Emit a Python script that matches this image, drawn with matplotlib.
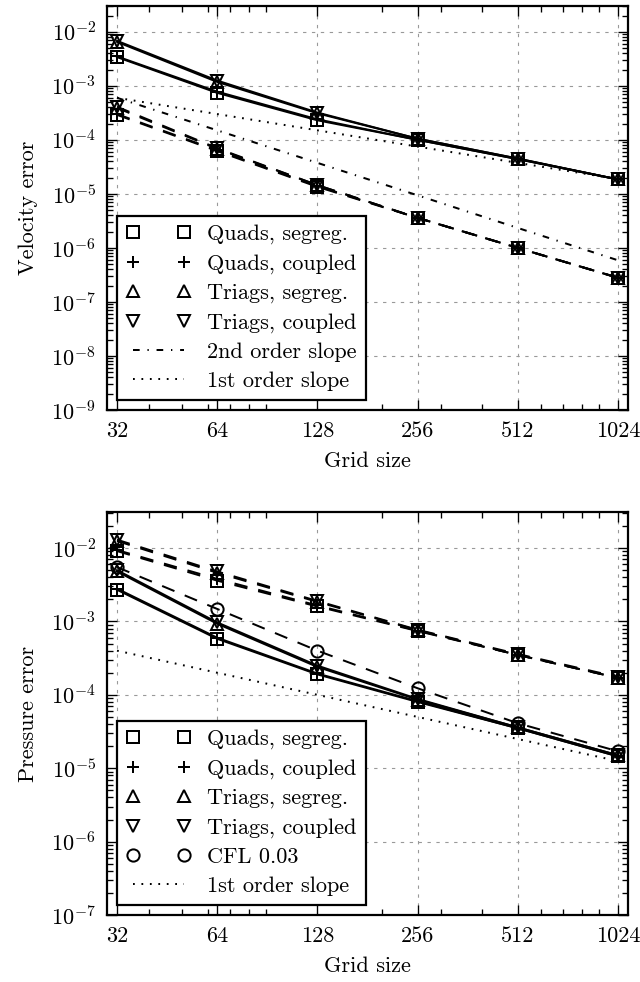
import matplotlib
matplotlib.use("Agg")
import matplotlib.pyplot as plt
from matplotlib.lines import Line2D
from matplotlib.ticker import LogLocator, LogFormatterSciNotation, NullFormatter, FixedLocator

plt.rcParams.update({
    "font.family": "serif",
    "font.serif": ["cmr10", "DejaVu Serif"],
    "mathtext.fontset": "cm",
    "axes.formatter.use_mathtext": True,
    "axes.unicode_minus": False,
    "font.size": 10,
    "lines.scale_dashes": False,
    "axes.linewidth": 1.0,
})

# ---------------- data ----------------
grid = [32, 64, 128, 256, 512, 1024]
grid_labels = ["32", "64", "128", "256", "512", "1024"]
grid_minor = [40, 50, 60, 70, 80, 90, 200, 300, 400, 600, 700, 800, 900]

# Velocity error (solid lines)
vel_quads_segreg = [3.4e-3, 7.4e-4, 2.3e-4, 1.0e-4, 4.4e-5, 1.85e-5]
vel_quads_coupled = [3.5e-3, 7.8e-4, 2.4e-4, 1.0e-4, 4.4e-5, 1.85e-5]
vel_triags_segreg = [6.5e-3, 1.18e-3, 3.1e-4, 1.05e-4, 4.5e-5, 1.85e-5]
vel_triags_coupled = [6.8e-3, 1.25e-3, 3.2e-4, 1.05e-4, 4.5e-5, 1.85e-5]
# Velocity error (dashed lines)
vel_quads_segreg_d = [2.9e-4, 6.2e-5, 1.35e-5, 3.6e-6, 1.0e-6, 2.8e-7]
vel_quads_coupled_d = [3.0e-4, 6.4e-5, 1.4e-5, 3.6e-6, 1.0e-6, 2.8e-7]
vel_triags_segreg_d = [3.9e-4, 6.8e-5, 1.45e-5, 3.6e-6, 1.0e-6, 2.8e-7]
vel_triags_coupled_d = [4.1e-4, 7.0e-5, 1.45e-5, 3.6e-6, 1.0e-6, 2.8e-7]
vel_second_order = [6.0e-4, 1.5e-4, 3.75e-5, 9.4e-6, 2.34e-6, 5.9e-7]
vel_first_order = [6.0e-4, 3.0e-4, 1.5e-4, 7.5e-5, 3.75e-5, 1.875e-5]

# Pressure error (solid lines)
pre_quads_segreg = [2.7e-3, 5.8e-4, 1.9e-4, 8.0e-5, 3.5e-5, 1.45e-5]
pre_quads_coupled = [2.8e-3, 6.0e-4, 1.95e-4, 8.2e-5, 3.5e-5, 1.45e-5]
pre_triags_segreg = [4.8e-3, 9.3e-4, 2.4e-4, 8.6e-5, 3.6e-5, 1.5e-5]
pre_triags_coupled = [5.0e-3, 9.7e-4, 2.5e-4, 8.8e-5, 3.6e-5, 1.5e-5]
# Pressure error (dashed lines)
pre_quads_segreg_d = [9.1e-3, 3.6e-3, 1.6e-3, 7.4e-4, 3.5e-4, 1.7e-4]
pre_quads_coupled_d = [9.4e-3, 3.8e-3, 1.65e-3, 7.5e-4, 3.5e-4, 1.7e-4]
pre_triags_segreg_d = [1.25e-2, 4.6e-3, 1.85e-3, 7.6e-4, 3.5e-4, 1.7e-4]
pre_triags_coupled_d = [1.3e-2, 4.8e-3, 1.9e-3, 7.7e-4, 3.6e-4, 1.75e-4]
pre_cfl = [5.5e-3, 1.48e-3, 4.0e-4, 1.23e-4, 4.1e-5, 1.7e-5]
pre_first_order = [4.0e-4, 2.0e-4, 1.0e-4, 5.0e-5, 2.5e-5, 1.25e-5]

# ---------------- styling ----------------
LW = 0.9
MS = 5.5
MEW = 0.9
DASH = (0, (6.0, 5.0))
DASHDOT = (0, (3.0, 3.5, 0.6, 3.5))
DOT = (0, (0.8, 3.0))

fig = plt.figure(figsize=(4.0, 6.1375), dpi=160)
W, H = 640, 982
def pos(l, t, r, b):
    return [l / W, 1 - b / H, (r - l) / W, (b - t) / H]

ax1 = fig.add_axes(pos(107, 6, 628, 410))
ax2 = fig.add_axes(pos(107, 512, 628, 915))

def series(ax, y, marker, ls):
    ax.plot(grid, y, color="k", lw=LW, ls=ls, marker=marker, ms=MS,
            mfc="none", mec="k", mew=MEW, zorder=3)

# top
for y, m in [(vel_quads_segreg, "s"), (vel_quads_coupled, "+"),
             (vel_triags_segreg, "^"), (vel_triags_coupled, "v")]:
    series(ax1, y, m, "-")
for y, m in [(vel_quads_segreg_d, "s"), (vel_quads_coupled_d, "+"),
             (vel_triags_segreg_d, "^"), (vel_triags_coupled_d, "v")]:
    series(ax1, y, m, DASH)
ax1.plot(grid, vel_second_order, color="k", lw=LW, ls=DASHDOT)
ax1.plot(grid, vel_first_order, color="k", lw=LW, ls=DOT)

# bottom
for y, m in [(pre_quads_segreg, "s"), (pre_quads_coupled, "+"),
             (pre_triags_segreg, "^"), (pre_triags_coupled, "v")]:
    series(ax2, y, m, "-")
for y, m in [(pre_quads_segreg_d, "s"), (pre_quads_coupled_d, "+"),
             (pre_triags_segreg_d, "^"), (pre_triags_coupled_d, "v")]:
    series(ax2, y, m, DASH)
series(ax2, pre_cfl, "o", DASH)
ax2.plot(grid, pre_first_order, color="k", lw=LW, ls=DOT)

def mk(marker):
    return Line2D([], [], ls="none", marker=marker, ms=MS, mfc="none",
                  mec="k", mew=MEW, color="k")

leg_kw = dict(loc="lower left", numpoints=2, handlelength=2.9,
              handletextpad=0.76, labelspacing=0.43, borderaxespad=0.45,
              borderpad=0.4, fancybox=False, framealpha=1, edgecolor="k",
              fontsize=10)

h1 = [mk("s"), mk("+"), mk("^"), mk("v"),
      Line2D([], [], color="k", lw=LW, ls=DASHDOT),
      Line2D([], [], color="k", lw=LW, ls=DOT)]
l1 = ["Quads, segreg.", "Quads, coupled", "Triags, segreg.", "Triags, coupled",
      "2nd order slope", "1st order slope"]
lg1 = ax1.legend(h1, l1, **leg_kw)
lg1.get_frame().set_linewidth(1.0)

h2 = [mk("s"), mk("+"), mk("^"), mk("v"), mk("o"),
      Line2D([], [], color="k", lw=LW, ls=DOT)]
l2 = ["Quads, segreg.", "Quads, coupled", "Triags, segreg.", "Triags, coupled",
      "CFL 0.03", "1st order slope"]
lg2 = ax2.legend(h2, l2, **leg_kw)
lg2.get_frame().set_linewidth(1.0)

for ax, ylab, ylo, yhi in [(ax1, "Velocity error", 1e-9, 3.0e-2),
                           (ax2, "Pressure error", 1e-7, 3.1e-2)]:
    ax.set_xscale("log")
    ax.set_yscale("log")
    ax.set_xlim(32 * 2 ** -0.1, 1024 * 2 ** 0.1)
    ax.set_ylim(ylo, yhi)
    ax.set_xticks(grid, labels=grid_labels)
    ax.xaxis.set_minor_locator(FixedLocator(grid_minor))
    ax.xaxis.set_minor_formatter(NullFormatter())
    ax.yaxis.set_major_locator(LogLocator(base=10, numticks=20))
    ax.yaxis.set_minor_locator(LogLocator(base=10, subs=range(2, 10), numticks=20))
    ax.yaxis.set_major_formatter(LogFormatterSciNotation())
    ax.yaxis.set_minor_formatter(NullFormatter())
    ax.tick_params(which="both", direction="in", top=True, right=True,
                   width=0.6, pad=5)
    ax.tick_params(which="major", length=4.3)
    ax.tick_params(which="minor", length=2.6)
    ax.grid(True, which="major", color="0.6", lw=0.5, ls=(0, (1.5, 2.5)))
    ax.set_axisbelow(True)
    ax.set_xlabel("Grid size", labelpad=5)
    ax.set_ylabel(ylab, labelpad=6)

fig.savefig("out.png", dpi=160)
